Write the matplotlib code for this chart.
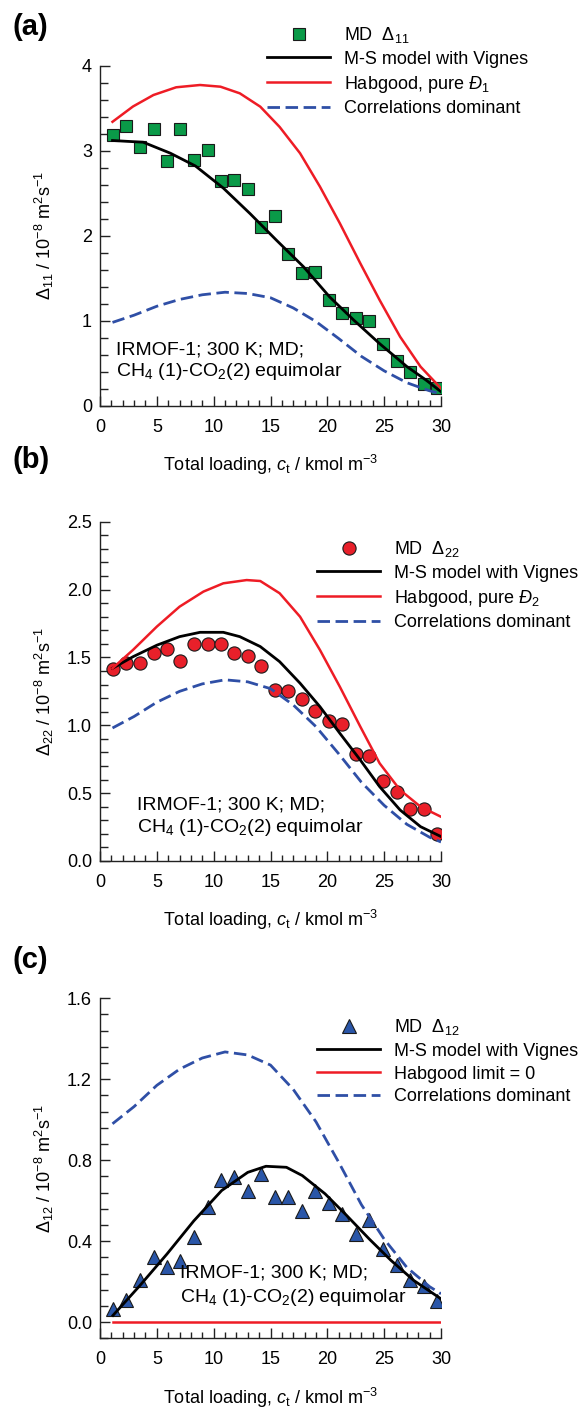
import matplotlib
matplotlib.use("Agg")
import matplotlib.pyplot as plt
from matplotlib.ticker import MultipleLocator, FormatStrFormatter

plt.rcParams['font.family'] = ['Liberation Sans', 'DejaVu Sans']
plt.rcParams['mathtext.fontset'] = 'custom'
plt.rcParams['mathtext.rm'] = 'Liberation Sans'
plt.rcParams['mathtext.it'] = 'Liberation Sans:italic'
plt.rcParams['mathtext.bf'] = 'Liberation Sans:bold'

# ---------------- data ----------------
loading = [1.14, 2.31, 3.51, 4.71, 5.88, 7.05, 8.25, 9.46, 10.63, 11.83, 13.03, 14.2,
           15.4, 16.57, 17.78, 18.95, 20.15, 21.32, 22.52, 23.69, 24.9, 26.1, 27.27,
           28.47, 29.64]

md_d11 = [3.18, 3.29, 3.04, 3.26, 2.88, 3.26, 2.89, 3.01, 2.64, 2.65, 2.55, 2.10,
          2.23, 1.78, 1.56, 1.57, 1.24, 1.09, 1.03, 0.995, 0.725, 0.525, 0.40, 0.255, 0.21]
md_d22 = [1.415, 1.46, 1.46, 1.53, 1.56, 1.47, 1.60, 1.60, 1.60, 1.53, 1.51, 1.44,
          1.26, 1.25, 1.19, 1.105, 1.03, 1.01, 0.79, 0.77, 0.59, 0.505, 0.38, 0.38, 0.20]
md_d12 = [0.066, 0.11, 0.206, 0.32, 0.27, 0.30, 0.42, 0.57, 0.70, 0.716, 0.65, 0.73,
          0.62, 0.62, 0.55, 0.65, 0.59, 0.535, 0.436, 0.505, 0.362, 0.28, 0.21, 0.176, 0.104]

# model curves
ms11_x = [1.1, 2.4, 3.8, 6.2, 8.4, 10.85, 13.2, 15.5, 17.9, 20.2, 22.3, 24.6, 27.0, 28.7, 30.0]
ms11_y = [3.12, 3.11, 3.10, 2.97, 2.82, 2.56, 2.26, 1.95, 1.635, 1.28, 1.01, 0.73, 0.46, 0.30, 0.165]

hab1_x = [1.1, 2.9, 4.7, 6.7, 8.8, 10.6, 12.3, 14.1, 15.8, 17.6, 19.35, 21.1, 22.9, 24.6, 26.4, 28.2, 30.0]
hab1_y = [3.34, 3.52, 3.655, 3.746, 3.773, 3.753, 3.675, 3.518, 3.28, 2.97, 2.577, 2.146, 1.675,
          1.243, 0.812, 0.459, 0.204]

ms22_x = [1.1, 2.9, 5.0, 7.0, 8.8, 10.85, 12.3, 14.1, 15.8, 17.6, 19.35, 21.1, 22.9, 24.6, 26.4,
          28.2, 30.0]
ms22_y = [1.42, 1.505, 1.59, 1.653, 1.685, 1.685, 1.653, 1.58, 1.469, 1.31, 1.137, 0.941, 0.744,
          0.548, 0.376, 0.253, 0.18]

hab2_x = [1.1, 2.9, 5.0, 7.0, 9.1, 10.85, 12.9, 14.1, 15.8, 17.6, 19.35, 21.1, 22.9, 24.6, 26.4,
          28.2, 30.0]
hab2_y = [1.42, 1.555, 1.727, 1.874, 1.985, 2.046, 2.07, 2.063, 1.973, 1.80, 1.555, 1.284, 0.99,
          0.72, 0.523, 0.40, 0.326]

ms12_x = [1.14, 3.5, 5.9, 8.25, 10.7, 13.0, 14.6, 16.4, 17.8, 19.8, 21.7, 23.7, 25.6, 27.6, 30.0]
ms12_y = [0.033, 0.18, 0.337, 0.50, 0.65, 0.74, 0.77, 0.765, 0.724, 0.634, 0.527, 0.41, 0.305, 0.206, 0.115]

hab12_x = [1.14, 30.0]
hab12_y = [0.0, 0.0]

corr_x = [1.1, 3.0, 5.0, 7.0, 9.0, 11.0, 13.0, 15.0, 17.0, 19.0, 21.0, 23.0, 25.0, 27.0, 29.0, 30.0]
corr_y = [0.98, 1.065, 1.17, 1.25, 1.305, 1.335, 1.32, 1.27, 1.15, 0.99, 0.79, 0.58, 0.41, 0.27,
          0.175, 0.14]

# ---------------- figure ----------------
W, H = 579, 1408
fig = plt.figure(figsize=(W / 100, H / 100), dpi=100)

def fx(px):
    return px / W

def fy(py):
    return 1 - py / H

GREEN = '#0A9A48'
RED_M = '#E8202A'
BLUE_M = '#2A56A8'
RED_L = '#EE1C25'
BLUE_L = '#2F4FA6'
FS = 13

panels = [
    dict(top=65.7, bot=405.7, ylim=(0, 4), major=1, minor=0.2, fmt='%d',
         md=md_d11, marker='s', mcol=GREEN, ms=8.5,
         ms_x=ms11_x, ms_y=ms11_y, hab_x=hab1_x, hab_y=hab1_y,
         ylab=r'$\Delta_{11}$ / 10$^{-8}$ m$^{2}$s$^{-1}$',
         labels=[r'MD  $\Delta_{11}$', 'M-S model with Vignes',
                 r'Habgood, pure $\mathit{Đ}_{1}$', 'Correlations dominant'],
         leg=(267, 25), ann=(116, 350, 372), tag='(a)', tagy=27),
    dict(top=521.7, bot=861, ylim=(0, 2.5), major=0.5, minor=0.1, fmt='%.1f',
         md=md_d22, marker='o', mcol=RED_M, ms=9.5,
         ms_x=ms22_x, ms_y=ms22_y, hab_x=hab2_x, hab_y=hab2_y,
         ylab=r'$\Delta_{22}$ / 10$^{-8}$ m$^{2}$s$^{-1}$',
         labels=[r'MD  $\Delta_{22}$', 'M-S model with Vignes',
                 r'Habgood, pure $\mathit{Đ}_{2}$', 'Correlations dominant'],
         leg=(317, 539), ann=(137, 805, 828), tag='(b)', tagy=460),
    dict(top=998.3, bot=1338.3, ylim=(-0.08, 1.6), major=0.4, minor=0.08, fmt='%.1f',
         md=md_d12, marker='^', mcol=BLUE_M, ms=9.5,
         ms_x=ms12_x, ms_y=ms12_y, hab_x=hab12_x, hab_y=hab12_y,
         ylab=r'$\Delta_{12}$ / 10$^{-8}$ m$^{2}$s$^{-1}$',
         labels=[r'MD  $\Delta_{12}$', 'M-S model with Vignes',
                 'Habgood limit = 0', 'Correlations dominant'],
         leg=(317, 1017), ann=(180, 1273, 1297), tag='(c)', tagy=960),
]

for p in panels:
    ax = fig.add_axes([fx(100), fy(p['bot']), 341 / W, (p['bot'] - p['top']) / H])
    pts, = ax.plot(loading, p['md'], linestyle='none', marker=p['marker'],
                   markersize=p['ms'], markerfacecolor=p['mcol'],
                   markeredgecolor='#1a1a1a', markeredgewidth=0.8, zorder=2)
    l_ms, = ax.plot(p['ms_x'], p['ms_y'], color='black', lw=2.0, zorder=3)
    l_hab, = ax.plot(p['hab_x'], p['hab_y'], color=RED_L, lw=1.8, zorder=3)
    l_corr, = ax.plot(corr_x, corr_y, color=BLUE_L, lw=2.0, dashes=(4.5, 2.0), zorder=3)

    ax.set_xlim(0, 30)
    ax.set_ylim(*p['ylim'])
    ax.xaxis.set_major_locator(MultipleLocator(5))
    ax.xaxis.set_minor_locator(MultipleLocator(1))
    ax.yaxis.set_major_locator(MultipleLocator(p['major']))
    ax.yaxis.set_minor_locator(MultipleLocator(p['minor']))
    ax.yaxis.set_major_formatter(FormatStrFormatter(p['fmt']))
    if p['ylim'][0] < 0:
        ax.set_yticks([0.0, 0.4, 0.8, 1.2, 1.6])
    for s in ('top', 'right'):
        ax.spines[s].set_visible(False)
    for s in ('left', 'bottom'):
        ax.spines[s].set_linewidth(1.0)
        ax.spines[s].set_color('#222222')
    ax.tick_params(axis='both', which='both', direction='in', width=1.0, color='#222222')
    ax.tick_params(axis='x', which='major', length=7, pad=9.5, labelsize=FS)
    ax.tick_params(axis='x', which='minor', length=4.5)
    ax.tick_params(axis='y', which='major', length=7, pad=5.8, labelsize=FS)
    ax.tick_params(axis='y', which='minor', length=6)

    ax.set_xlabel(r'Total loading, $c_{\mathrm{t}}$ / kmol m$^{-3}$', fontsize=FS)
    ax.xaxis.set_label_coords(0.5, -0.139)
    ax.set_ylabel(p['ylab'], fontsize=FS)
    ax.yaxis.set_label_coords(-0.13, 0.5)

    lx, ly = p['leg']
    ax.legend([pts, l_ms, l_hab, l_corr], p['labels'], loc='upper left',
              bbox_to_anchor=(fx(lx), fy(ly)), bbox_transform=fig.transFigure,
              frameon=False, fontsize=FS, borderpad=0, borderaxespad=0,
              handlelength=3.49, handletextpad=0.78, labelspacing=0.32,
              numpoints=1)

    axx, a1, a2 = p['ann']
    fig.text(fx(axx), fy(a1), 'IRMOF-1; 300 K; MD;', fontsize=14, va='center', ha='left')
    fig.text(fx(axx), fy(a2), r'CH$_{4}$ (1)-CO$_{2}$(2) equimolar', fontsize=14,
             va='center', ha='left')

    fig.text(fx(12), fy(p['tagy']), p['tag'], fontsize=21, fontweight='bold',
             va='center', ha='left')

fig.savefig('out.png', dpi=100)
